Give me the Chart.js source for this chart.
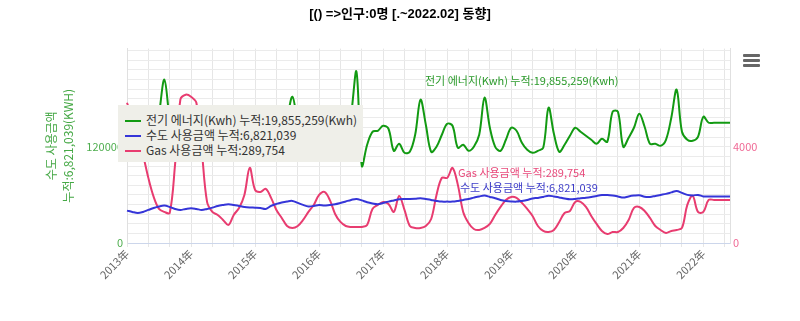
<!DOCTYPE html>
<html>
<head>
<meta charset="utf-8">
<script src="https://cdn.jsdelivr.net/npm/chart.js@4.4.1/dist/chart.umd.min.js"></script>
<style>
  body { margin: 0; background: #fff; }
  #wrap { position: relative; width: 800px; height: 321px; font-family: "Noto Sans CJK KR", "Noto Sans", sans-serif; }
  #legendBox { position: absolute; left: 118px; top: 105px; width: 245px; height: 57px; background: #efefe9; font-size: 12px; color: #333; }
  #legendBox div { position: absolute; left: 7px; height: 15px; line-height: 15px; white-space: nowrap; }
  #legendBox span.sym { display: inline-block; width: 16px; height: 2px; vertical-align: middle; margin-right: 5px; position: relative; top: -1px; }
  .dlabel { position: absolute; font-size: 11px; white-space: nowrap; line-height: 13px; }
  #menu { position: absolute; left: 743px; top: 54px; width: 17px; }
  #menu i { display: block; height: 3px; background: #666; border-radius: 1px; margin-bottom: 2px; }
</style>
</head>
<body>
<div id="wrap">
  <canvas id="chart" width="800" height="321"></canvas>
  <div id="legendBox">
    <div style="top:7px"><span class="sym" style="background:#129a12"></span>전기 에너지(Kwh) 누적:19,855,259(Kwh)</div>
    <div style="top:22px"><span class="sym" style="background:#3535d8"></span>수도 사용금액 누적:6,821,039</div>
    <div style="top:37px"><span class="sym" style="background:#e83c70"></span>Gas 사용금액 누적:289,754</div>
  </div>
  <div class="dlabel" style="left:425px; top:74px; color:#2a9a2a">전기 에너지(Kwh) 누적:19,855,259(Kwh)</div>
  <div class="dlabel" style="left:458px; top:166px; color:#e8487a">Gas 사용금액 누적:289,754</div>
  <div class="dlabel" style="left:460px; top:181px; color:#3b3bc8">수도 사용금액 누적:6,821,039</div>
  <div id="menu"><i></i><i></i><i></i></div>
</div>
<script>
const years = ["2013年", "2014年", "2015年", "2016年", "2017年", "2018年", "2019年", "2020年", "2021年", "2022年"];

// monthly categories 2013.01 ~ 2022.06
const months = [];
for (let y = 2013; y <= 2022; y++) {
  for (let m = 1; m <= 12; m++) {
    if (y === 2022 && m > 6) break;
    months.push(y + "." + (m < 10 ? "0" + m : m));
  }
}

const electric = [
  135000, 141250, 128750, 116250, 110000, 118750, 160000, 203750, 153750, 116250, 113750, 128750,
  141250, 135000, 122500, 116250, 113750, 116250, 141250, 166250, 135000, 116250, 116250, 128750,
  143750, 141250, 126250, 116250, 113750, 122500, 153750, 182500, 147500, 116250, 113750, 122500,
  135000, 141250, 128750, 116250, 113750, 122500, 160000, 213750, 96250, 122500, 138750, 140000,
  146250, 142500, 115000, 123750, 112500, 113750, 135000, 178750, 147500, 113750, 120000, 135000,
  148750, 146250, 118750, 122500, 115000, 120000, 135000, 181250, 143750, 120000, 115000, 128750,
  143750, 140000, 125000, 116250, 112500, 115000, 118750, 168750, 136250, 113750, 122500, 133750,
  143750, 138750, 133750, 128750, 123750, 130000, 126250, 163750, 163750, 120000, 131250, 143750,
  161250, 145000, 123750, 123750, 121250, 128750, 156250, 191250, 138750, 128750, 127500, 132500,
  157500, 150000, 150000, 150000, 150000, 150000
];

const water = [
  40400, 38750, 37500, 38750, 41250, 43750, 45625, 46625, 45000, 42500, 41250, 42500,
  43375, 42500, 41250, 42500, 44125, 46250, 47500, 48375, 47500, 46250, 45000, 44375,
  44125, 43750, 42500, 46250, 48750, 50625, 51875, 52500, 50000, 47500, 45625, 46250,
  47500, 46625, 47500, 48375, 50000, 51875, 53750, 55000, 53125, 50875, 49375, 48375,
  50000, 51625, 53125, 54625, 55000, 55000, 55250, 55875, 55000, 53750, 52500, 51625,
  51625, 51625, 52500, 53750, 55000, 56625, 58125, 59125, 57500, 55875, 53750, 52500,
  51875, 51625, 52500, 53750, 55625, 56250, 57500, 59000, 58125, 56875, 55625, 54625,
  55000, 55875, 56500, 57500, 58750, 59750, 60000, 59375, 58125, 56625, 58125, 59125,
  59625, 57750, 57500, 58750, 60000, 61250, 63125, 65000, 62500, 60000, 59375, 60000,
  58125, 57875, 57875, 57875, 57875, 57875
];

const gas = [
  5833, 5208, 4500, 3667, 2708, 1917, 1417, 1292, 1250, 3250, 5958, 6167,
  6083, 5833, 3875, 1708, 1292, 1167, 958, 750, 1167, 1458, 2000, 3125,
  2208, 2125, 2250, 1875, 1375, 1042, 708, 625, 708, 958, 1292, 1583,
  2000, 2125, 1792, 1208, 875, 708, 667, 667, 667, 750, 1417, 1583,
  1708, 1625, 1292, 1958, 1375, 708, 625, 625, 708, 1000, 2000, 2708,
  2708, 3125, 2417, 1292, 833, 583, 542, 625, 792, 1167, 1500, 1792,
  1917, 1875, 1667, 1417, 1125, 708, 500, 458, 542, 875, 1250, 1333,
  1708, 1708, 1500, 1125, 792, 500, 375, 458, 458, 625, 958, 1458,
  1500, 1333, 1042, 708, 542, 417, 500, 542, 625, 1583, 1958, 1292,
  1292, 1792, 1792, 1792, 1792, 1792
];

const leftLabels = [0, 120000];
const rightLabels = [0, 4000];
const leftMax = 242500;
const rightMax = 8083.33;

// horizontal grid lines every 12000 on the left axis
const leftGrid = [];
for (let v = 0; v <= 240000; v += 12000) leftGrid.push(v);

const fontFamily = '"Noto Sans CJK KR", "Noto Sans", sans-serif';

new Chart(document.getElementById("chart"), {
  type: "line",
  data: {
    labels: months,
    datasets: [
      { label: "전기 에너지(Kwh) 누적:19,855,259(Kwh)", data: electric, borderColor: "#129a12", yAxisID: "y" },
      { label: "수도 사용금액 누적:6,821,039", data: water, borderColor: "#3535d8", yAxisID: "y" },
      { label: "Gas 사용금액 누적:289,754", data: gas, borderColor: "#e83c70", yAxisID: "y1" },
    ],
  },
  options: {
    responsive: false,
    animation: false,
    layout: { padding: 0 },
    elements: {
      line: { borderWidth: 2, tension: 0.35, fill: false },
      point: { radius: 0 },
    },
    plugins: {
      legend: { display: false },
      tooltip: { enabled: false },
      title: {
        display: true,
        text: "[() =>인구:0명 [.~2022.02] 동향]",
        color: "#000",
        font: { size: 13, weight: "bold", family: '"Liberation Sans", "Noto Sans CJK KR", sans-serif' },
        padding: { top: 7, bottom: 26 },
      },
    },
    scales: {
      x: {
        offset: false,
        grid: {
          color: (ctx) => (ctx.index % 4 === 0 ? "#e6e6e6" : "transparent"),
          tickLength: 4,
        },
        border: { color: "#ccd6eb" },
        ticks: {
          autoSkip: false,
          minRotation: 45,
          maxRotation: 45,
          color: "#666",
          padding: 0,
          font: { size: 11, family: fontFamily },
          callback: (v, i) => (i % 12 === 0 ? years[i / 12] : ""),
        },
        afterFit: (s) => { s.height = 78; },
      },
      y: {
        position: "left",
        min: 0,
        max: leftMax,
        grid: { color: "#ebebeb", drawTicks: false },
        border: { color: "#e0e0e0" },
        ticks: {
          autoSkip: false,
          padding: 4,
          color: "#4fae4f",
          font: { size: 11, family: fontFamily },
          callback: (v) => (leftLabels.includes(v) ? String(v) : ""),
        },
        afterBuildTicks: (s) => { s.ticks = leftGrid.map((v) => ({ value: v })); },
        title: {
          display: true,
          text: ["수도 사용금액", "누적:6,821,039(KWH)"],
          color: "#45a845",
          font: { size: 12, family: fontFamily, lineHeight: 1.4 },
          padding: { top: 43, bottom: 0 },
        },
        afterFit: (s) => { s.width = 127; },
      },
      y1: {
        position: "right",
        min: 0,
        max: rightMax,
        grid: { drawOnChartArea: false, drawTicks: false },
        border: { color: "#e0e0e0" },
        ticks: {
          autoSkip: false,
          padding: 3,
          color: "#f06a96",
          font: { size: 11, family: fontFamily },
          callback: (v) => (rightLabels.includes(v) ? String(v) : ""),
        },
        afterBuildTicks: (s) => { s.ticks = rightLabels.map((v) => ({ value: v })); },
        afterFit: (s) => { s.width = 70; },
      },
    },
  },
});
</script>
</body>
</html>
